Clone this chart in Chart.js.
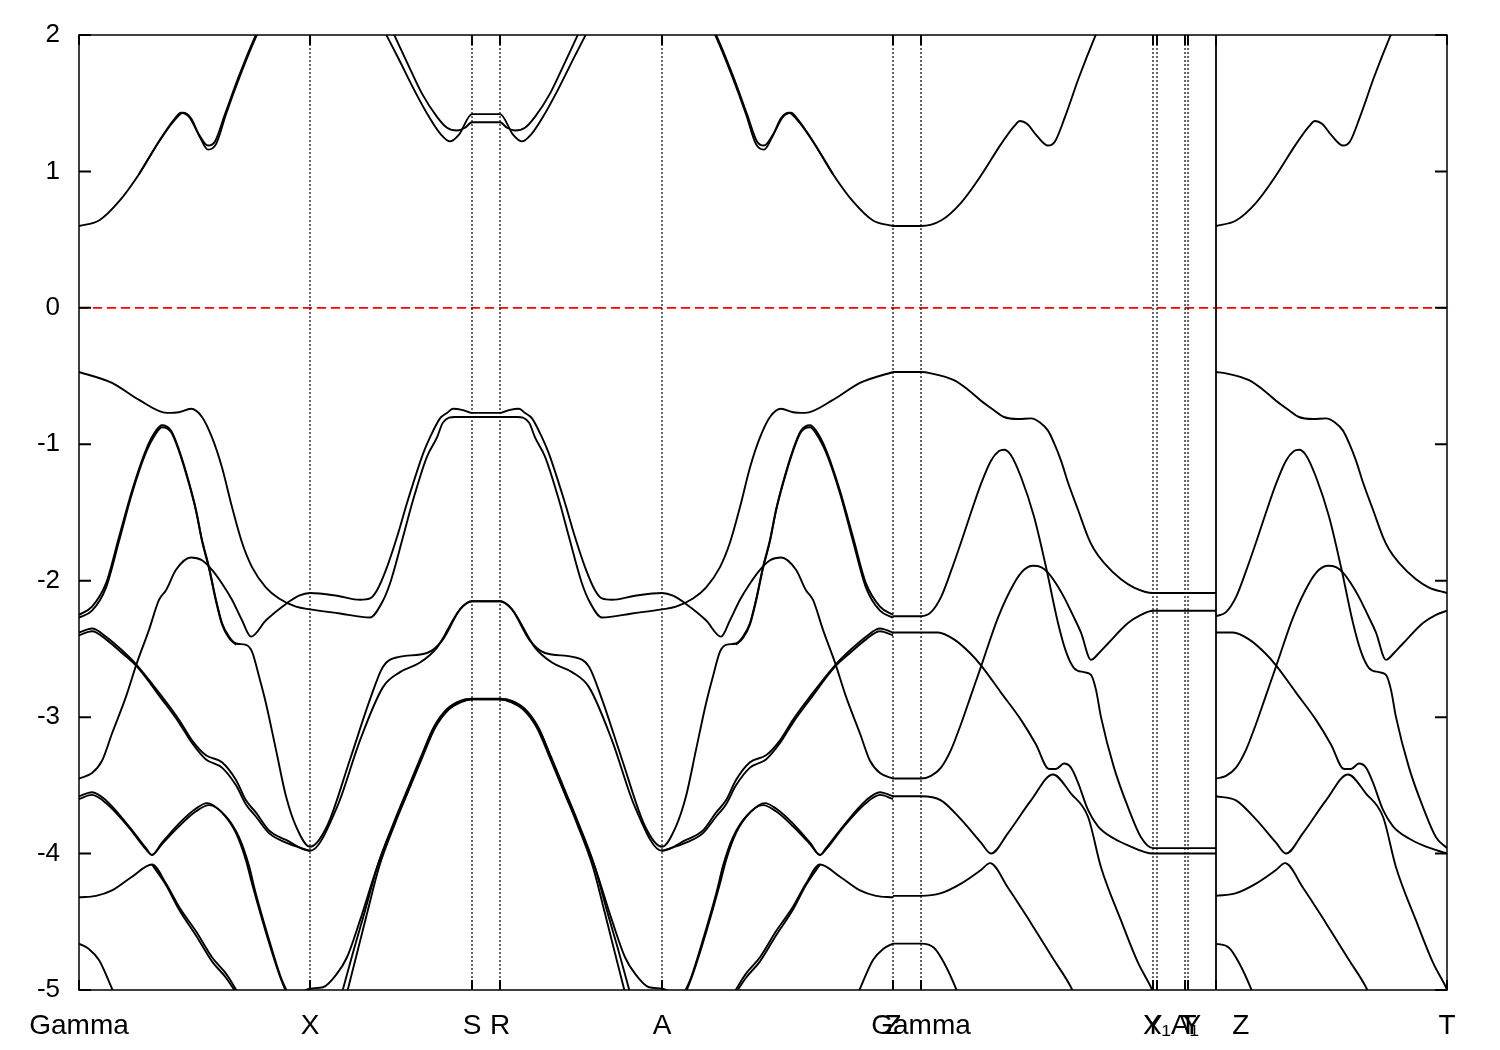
<!DOCTYPE html>
<html>
<head>
<meta charset="utf-8">
<title>Band structure</title>
<script src="https://cdn.jsdelivr.net/npm/chart.js@4.4.1/dist/chart.umd.min.js"></script>
<style>
  html, body { margin: 0; padding: 0; background: #fff; }
  #wrap { width: 1500px; height: 1050px; }
</style>
</head>
<body>
<div id="wrap"><canvas id="bands" width="1500" height="1050"></canvas></div>
<script>
// high-symmetry points along the k-path
const symK = [0, 231, 393, 421, 583, 814, 842, 1074, 1078, 1106, 1109, 1137, 1368];
const symLabels = ["Gamma", "X", "S", "R", "A", "Z", "Gamma", "Y", "X₁", "A₁", "T", "Y    Z", "T"];
const breakK = 1137;
const yTicks = [2, 1, 0, -1, -2, -3, -4, -5];

// ---- Gamma - X - S - R - A - Z ----  [k, E(eV)]
const gx_cb = [[0,0.60],[20,0.64],[40,0.78],[60,0.98],[80,1.22],[95,1.38],[102,1.43],[110,1.40],[120,1.27],[129,1.19],[136,1.22],[146,1.42],[160,1.70],[175,1.97],[185,2.12]];
const gx_cb2 = [[60,0.98],[80,1.22],[96,1.38],[104,1.43],[112,1.39],[121,1.25],[129,1.16],[137,1.20],[147,1.42],[161,1.70],[176,1.97],[186,2.12]];
const az_cb = [[629,2.12],[639,1.97],[654,1.70],[668,1.42],[678,1.22],[685,1.19],[694,1.27],[704,1.40],[712,1.43],[719,1.38],[734,1.22],[754,0.98],[774,0.78],[794,0.64],[814,0.60]];
const az_cb2 = [[628,2.12],[638,1.97],[653,1.70],[667,1.42],[677,1.20],[685,1.16],[693,1.25],[702,1.39],[710,1.43],[718,1.38],[734,1.22],[754,0.98]];
const sr_cb1 = [[306,2.02],[320,1.82],[335,1.60],[350,1.40],[362,1.27],[371,1.22],[380,1.27],[393,1.42],[421,1.42],[434,1.27],[443,1.22],[452,1.27],[464,1.40],[479,1.60],[494,1.82],[508,2.02]];
const sr_cb2 = [[314,2.02],[328,1.80],[343,1.57],[358,1.40],[368,1.32],[378,1.30],[386,1.32],[393,1.36],[421,1.36],[428,1.32],[436,1.30],[446,1.32],[456,1.40],[471,1.57],[486,1.80],[500,2.02]];

const vb1 = [[0,-0.47],[33,-0.55],[60,-0.675],[88,-0.77],[100,-0.765],[112,-0.74],[123,-0.80],[133,-0.95],[143,-1.17],[153,-1.46],[163,-1.72],[173,-1.90],[187,-2.05],[200,-2.13],[217,-2.19],[231,-2.21],
  [261,-2.24],[291,-2.27],[303,-2.16],[311,-2.02],[324,-1.68],[334,-1.41],[348,-1.09],[358,-0.95],[364,-0.84],[376,-0.80],[393,-0.80],[421,-0.80],
  [438,-0.80],[450,-0.84],[456,-0.95],[466,-1.09],[480,-1.41],[490,-1.68],[503,-2.02],[511,-2.16],[523,-2.27],[553,-2.24],[583,-2.21],
  [597,-2.19],[614,-2.13],[627,-2.05],[641,-1.90],[651,-1.72],[661,-1.46],[671,-1.17],[681,-0.95],[691,-0.80],[702,-0.74],[714,-0.765],[726,-0.77],[754,-0.675],[781,-0.55],[814,-0.47]];
const vb4 = [[0,-3.45],[13,-3.41],[23,-3.32],[33,-3.12],[47,-2.85],[58,-2.60],[70,-2.36],[80,-2.14],[87,-2.07],[97,-1.92],[112,-1.83],[123,-1.85],[133,-1.92],[143,-2.02],[153,-2.14],[163,-2.29],[172,-2.41],[187,-2.29],[207,-2.17],[220,-2.11],[231,-2.09],
  [258,-2.11],[281,-2.14],[291,-2.13],[298,-2.07],[308,-1.90],[318,-1.68],[328,-1.43],[334,-1.29],[344,-1.07],[351,-0.95],[361,-0.81],[368,-0.77],[374,-0.74],[384,-0.75],[393,-0.77],[421,-0.77],
  [430,-0.75],[440,-0.74],[446,-0.77],[453,-0.81],[463,-0.95],[470,-1.07],[480,-1.29],[486,-1.43],[496,-1.68],[506,-1.90],[516,-2.07],[523,-2.13],[533,-2.14],[556,-2.11],[583,-2.09],
  [594,-2.11],[607,-2.17],[627,-2.29],[642,-2.41],[651,-2.29],[661,-2.14],[671,-2.02],[681,-1.92],[691,-1.85],[702,-1.83],[717,-1.92],[727,-2.07],[734,-2.14],[744,-2.36],[756,-2.60],[767,-2.85],[781,-3.12],[791,-3.32],[801,-3.41],[814,-3.45]];
const vb2 = [[0,-2.25],[13,-2.19],[27,-2.02],[40,-1.68],[53,-1.34],[67,-1.04],[77,-0.90],[83,-0.86],[92,-0.90],[100,-1.04],[110,-1.28],[117,-1.48],[123,-1.70],[130,-1.90],[137,-2.14],[143,-2.31],[150,-2.41],[157,-2.46],[167,-2.47],[173,-2.52],[180,-2.70],[187,-2.90],[197,-3.24],[207,-3.58],[217,-3.80],[231,-3.95],
  [248,-3.80],[271,-3.31],[291,-2.87],[304,-2.63],[319,-2.56],[348,-2.53],[364,-2.43],[381,-2.21],[393,-2.15],[421,-2.15],
  [433,-2.21],[450,-2.43],[466,-2.53],[495,-2.56],[510,-2.63],[523,-2.87],[543,-3.31],[566,-3.80],[583,-3.95],
  [597,-3.80],[607,-3.58],[617,-3.24],[627,-2.90],[634,-2.70],[641,-2.52],[647,-2.47],[657,-2.46],[664,-2.41],[671,-2.31],[677,-2.14],[684,-1.90],[691,-1.70],[697,-1.48],[704,-1.28],[714,-1.04],[722,-0.90],[731,-0.86],[737,-0.90],[747,-1.04],[761,-1.34],[774,-1.68],[787,-2.02],[801,-2.19],[814,-2.25]];
const vb2b_g = [[0,-2.27],[13,-2.22],[27,-2.05],[40,-1.71],[53,-1.36],[67,-1.06],[77,-0.92],[83,-0.875],[92,-0.91],[100,-1.05],[110,-1.29],[117,-1.49],[123,-1.71],[130,-1.91],[137,-2.15],[143,-2.32],[150,-2.42],[157,-2.47]];
const vb2b_z = [[657,-2.47],[664,-2.42],[671,-2.32],[677,-2.15],[684,-1.91],[691,-1.71],[697,-1.49],[704,-1.29],[714,-1.05],[722,-0.91],[731,-0.875],[737,-0.92],[747,-1.06],[761,-1.36],[774,-1.71],[787,-2.05],[801,-2.22],[814,-2.27]];
const vb3 = [[0,-2.38],[13,-2.35],[27,-2.41],[43,-2.51],[58,-2.62],[83,-2.85],[100,-3.02],[113,-3.17],[127,-3.28],[143,-3.33],[157,-3.46],[167,-3.61],[177,-3.70],[190,-3.83],[207,-3.90],[231,-3.98],
  [258,-3.66],[281,-3.17],[304,-2.78],[321,-2.67],[341,-2.60],[358,-2.49],[381,-2.21],[393,-2.15],[421,-2.15],
  [433,-2.21],[456,-2.49],[473,-2.60],[493,-2.67],[510,-2.78],[533,-3.17],[556,-3.66],[583,-3.98],
  [607,-3.90],[624,-3.83],[637,-3.70],[647,-3.61],[657,-3.46],[671,-3.33],[687,-3.28],[701,-3.17],[714,-3.02],[731,-2.85],[756,-2.62],[771,-2.51],[787,-2.41],[801,-2.35],[814,-2.38]];
const vb3b_g = [[0,-2.40],[13,-2.37],[27,-2.43],[43,-2.53],[58,-2.63],[83,-2.87],[100,-3.04],[113,-3.19],[127,-3.31],[143,-3.37],[157,-3.50],[167,-3.64],[177,-3.73],[190,-3.85],[207,-3.92],[231,-3.98]];
const vb3b_z = [[583,-3.98],[607,-3.92],[624,-3.85],[637,-3.73],[647,-3.64],[657,-3.50],[671,-3.37],[687,-3.31],[701,-3.19],[714,-3.04],[731,-2.87],[756,-2.63],[771,-2.53],[787,-2.43],[801,-2.37],[814,-2.40]];
const vb5_g = [[0,-3.58],[13,-3.55],[27,-3.61],[50,-3.80],[67,-3.96],[73,-4.01],[83,-3.92],[100,-3.78],[117,-3.67],[128,-3.63],[143,-3.70],[157,-3.85],[167,-4.05],[173,-4.22],[187,-4.58],[200,-4.88],[209,-5.05]];
const vb5_z = [[605,-5.05],[614,-4.88],[627,-4.58],[641,-4.22],[647,-4.05],[657,-3.85],[671,-3.70],[686,-3.63],[697,-3.67],[714,-3.78],[731,-3.92],[741,-4.01],[747,-3.96],[764,-3.80],[787,-3.61],[801,-3.55],[814,-3.58]];
const vb5b_g = [[0,-3.60],[13,-3.57],[27,-3.63],[50,-3.81],[67,-3.97],[73,-4.01],[83,-3.93],[100,-3.80],[117,-3.69],[130,-3.645],[146,-3.72],[160,-3.88],[170,-4.09],[176,-4.27],[190,-4.63],[203,-4.93],[211,-5.05]];
const vb5b_z = [[603,-5.05],[611,-4.93],[624,-4.63],[638,-4.27],[644,-4.09],[654,-3.88],[668,-3.72],[684,-3.645],[697,-3.69],[714,-3.80],[731,-3.93],[741,-4.01],[747,-3.97],[764,-3.81],[787,-3.63],[801,-3.57],[814,-3.60]];
const vb6_g = [[0,-4.32],[17,-4.31],[33,-4.27],[53,-4.17],[73,-4.08],[87,-4.22],[100,-4.39],[117,-4.57],[133,-4.76],[147,-4.88],[159,-5.02]];
const vb6_z = [[655,-5.02],[667,-4.88],[681,-4.76],[697,-4.57],[714,-4.39],[727,-4.22],[741,-4.08],[761,-4.17],[781,-4.27],[797,-4.31],[814,-4.32]];
const vb6b_g = [[73,-4.08],[87,-4.23],[100,-4.41],[117,-4.60],[133,-4.79],[147,-4.91],[157,-5.02]];
const vb6b_z = [[657,-5.02],[667,-4.91],[681,-4.79],[697,-4.60],[714,-4.41],[727,-4.23],[741,-4.08]];
const vb7_g = [[0,-4.66],[10,-4.70],[20,-4.78],[33,-4.99],[36,-5.04]];
const vb7_z = [[778,-5.04],[781,-4.99],[794,-4.78],[804,-4.70],[814,-4.66]];
const xs_a = [[205,-5.10],[231,-4.99],[244,-4.98],[258,-4.88],[268,-4.76],[281,-4.49],[298,-4.10],[314,-3.80],[328,-3.56],[341,-3.32],[354,-3.09],[368,-2.95],[381,-2.89],[393,-2.87],[421,-2.87],
  [433,-2.89],[446,-2.95],[460,-3.09],[473,-3.32],[486,-3.56],[500,-3.80],[516,-4.10],[533,-4.49],[546,-4.76],[556,-4.88],[570,-4.98],[583,-4.99],[609,-5.10]];
const xs_b = [[268,-5.02],[278,-4.73],[288,-4.44],[300,-4.10],[316,-3.78],[330,-3.53],[343,-3.30],[356,-3.08],[369,-2.95],[382,-2.89],[393,-2.87],[421,-2.87],
  [432,-2.89],[445,-2.95],[458,-3.08],[471,-3.30],[484,-3.53],[498,-3.78],[514,-4.10],[526,-4.44],[536,-4.73],[546,-5.02]];
const xs_c = [[263,-5.02],[275,-4.70],[286,-4.42],[299,-4.08],[315,-3.77],[329,-3.52],[342,-3.29],[355,-3.07],[368,-2.94],[381,-2.88],[393,-2.865],[421,-2.865],
  [433,-2.88],[446,-2.94],[459,-3.07],[472,-3.29],[485,-3.52],[499,-3.77],[515,-4.08],[528,-4.42],[539,-4.70],[551,-5.02]];

// ---- Z - Gamma - Y - X1 - A1 - T - Y ----
const zg_cb = [[814,0.60],[842,0.60],[862,0.64],[882,0.77],[902,0.97],[922,1.20],[935,1.33],[941,1.37],[948,1.35],[958,1.26],[969,1.19],[976,1.22],[986,1.40],[1000,1.69],[1015,1.97],[1024,2.12]];
const g1 = [[814,-0.47],[842,-0.47],[852,-0.48],[875,-0.53],[889,-0.60],[902,-0.68],[915,-0.75],[925,-0.80],[939,-0.815],[952,-0.81],[961,-0.84],[969,-0.90],[975,-0.99],[982,-1.12],[989,-1.28],[999,-1.48],[1009,-1.68],[1015,-1.77],[1025,-1.87],[1042,-1.99],[1055,-2.05],[1074,-2.09],[1137,-2.09]];
const g2 = [[814,-2.26],[842,-2.26],[852,-2.23],[862,-2.12],[872,-1.93],[882,-1.72],[892,-1.50],[902,-1.29],[912,-1.12],[920,-1.05],[925,-1.04],[932,-1.08],[942,-1.24],[955,-1.53],[967,-1.90],[979,-2.31],[987,-2.52],[995,-2.64],[1005,-2.67],[1012,-2.69],[1017,-2.80],[1022,-3.00],[1035,-3.37],[1049,-3.66],[1062,-3.88],[1074,-3.96],[1137,-3.96]];
const g3 = [[814,-2.38],[842,-2.38],[859,-2.38],[875,-2.43],[891,-2.53],[902,-2.62],[922,-2.82],[942,-3.02],[957,-3.20],[970,-3.38],[977,-3.38],[985,-3.34],[992,-3.37],[999,-3.48],[1009,-3.68],[1019,-3.80],[1035,-3.89],[1049,-3.94],[1074,-4.00],[1137,-4.00]];
const g4 = [[814,-3.45],[842,-3.45],[852,-3.43],[862,-3.37],[872,-3.24],[882,-3.05],[892,-2.84],[902,-2.63],[919,-2.27],[935,-2.02],[945,-1.92],[954,-1.89],[962,-1.90],[969,-1.94],[977,-2.02],[985,-2.12],[993,-2.24],[1002,-2.38],[1012,-2.58],[1020,-2.53],[1029,-2.46],[1049,-2.31],[1062,-2.25],[1074,-2.22],[1137,-2.22]];
const g5 = [[814,-3.58],[842,-3.58],[862,-3.61],[882,-3.75],[902,-3.92],[912,-4.00],[929,-3.85],[952,-3.61],[974,-3.42],[992,-3.56],[1009,-3.73],[1022,-4.10],[1042,-4.49],[1059,-4.80],[1072,-4.98],[1076,-5.05]];
const g6 = [[814,-4.31],[842,-4.31],[862,-4.29],[882,-4.22],[902,-4.12],[911,-4.07],[929,-4.25],[952,-4.51],[975,-4.78],[992,-4.98],[995,-5.03]];
const g7 = [[814,-4.66],[842,-4.66],[855,-4.69],[865,-4.80],[877,-4.99],[879,-5.03]];

// ---- Z - T ----
const zt_cb = [[1137,0.60],[1157,0.64],[1177,0.77],[1197,0.97],[1217,1.20],[1230,1.33],[1236,1.37],[1243,1.35],[1253,1.26],[1264,1.19],[1271,1.22],[1281,1.40],[1295,1.69],[1310,1.97],[1319,2.12]];
const t1 = [[1137,-0.47],[1147,-0.48],[1170,-0.53],[1184,-0.60],[1197,-0.68],[1210,-0.75],[1220,-0.80],[1234,-0.815],[1247,-0.81],[1256,-0.84],[1264,-0.90],[1270,-0.99],[1277,-1.12],[1284,-1.28],[1294,-1.48],[1304,-1.68],[1310,-1.77],[1320,-1.87],[1337,-1.99],[1350,-2.05],[1368,-2.09]];
const t2 = [[1137,-2.26],[1147,-2.23],[1157,-2.12],[1167,-1.93],[1177,-1.72],[1187,-1.50],[1197,-1.29],[1207,-1.12],[1215,-1.05],[1220,-1.04],[1227,-1.08],[1237,-1.24],[1250,-1.53],[1262,-1.90],[1274,-2.31],[1282,-2.52],[1290,-2.64],[1300,-2.67],[1307,-2.69],[1312,-2.80],[1317,-3.00],[1330,-3.37],[1344,-3.66],[1357,-3.88],[1368,-3.96]];
const t3 = [[1137,-2.38],[1154,-2.38],[1170,-2.43],[1186,-2.53],[1197,-2.62],[1217,-2.82],[1237,-3.02],[1252,-3.20],[1265,-3.38],[1272,-3.38],[1280,-3.34],[1287,-3.37],[1294,-3.48],[1304,-3.68],[1314,-3.80],[1330,-3.89],[1344,-3.94],[1368,-4.00]];
const t4 = [[1137,-3.45],[1147,-3.43],[1157,-3.37],[1167,-3.24],[1177,-3.05],[1187,-2.84],[1197,-2.63],[1214,-2.27],[1230,-2.02],[1240,-1.92],[1249,-1.89],[1257,-1.90],[1264,-1.94],[1272,-2.02],[1280,-2.12],[1288,-2.24],[1297,-2.38],[1307,-2.58],[1315,-2.53],[1324,-2.46],[1344,-2.31],[1357,-2.25],[1368,-2.22]];
const t5 = [[1137,-3.58],[1157,-3.61],[1177,-3.75],[1197,-3.92],[1207,-4.00],[1224,-3.85],[1247,-3.61],[1269,-3.42],[1287,-3.56],[1304,-3.73],[1317,-4.10],[1337,-4.49],[1354,-4.80],[1367,-4.98],[1371,-5.05]];
const t6 = [[1137,-4.31],[1157,-4.29],[1177,-4.22],[1197,-4.12],[1206,-4.07],[1224,-4.25],[1247,-4.51],[1270,-4.78],[1287,-4.98],[1290,-5.03]];
const t7 = [[1137,-4.66],[1150,-4.69],[1160,-4.80],[1172,-4.99],[1174,-5.03]];

const fermi = [[0, 0], [1368, 0]];

const bands = [gx_cb, gx_cb2, az_cb, az_cb2, sr_cb1, sr_cb2,
  vb1, vb2, vb2b_g, vb2b_z, vb3, vb3b_g, vb3b_z, vb4,
  vb5_g, vb5_z, vb5b_g, vb5b_z, vb6_g, vb6_z, vb6b_g, vb6b_z, vb7_g, vb7_z, xs_a, xs_b, xs_c,
  zg_cb, g1, g2, g3, g4, g5, g6, g7,
  zt_cb, t1, t2, t3, t4, t5, t6, t7];

const pts = arr => arr.map(([x, y]) => ({x, y}));

const datasets = [];
symK.forEach(k => {
  if (k === 0 || k === 1368) return;
  datasets.push({
    data: pts([[k, -5], [k, 2]]),
    borderColor: '#000',
    borderWidth: k === breakK ? 1.8 : 1.2,
    borderDash: k === breakK ? [] : [2, 2],
    pointRadius: 0
  });
});
bands.forEach(b => {
  datasets.push({
    data: pts(b),
    borderColor: '#000',
    borderWidth: 1.9,
    pointRadius: 0,
    cubicInterpolationMode: 'monotone'
  });
});
datasets.push({
  data: pts(fermi),
  borderColor: '#ff0000',
  borderWidth: 1.8,
  borderDash: [9, 5],
  pointRadius: 0
});

const frame = {
  id: 'frame',
  afterDraw(chart) {
    const {ctx, chartArea: a, scales: {x, y}} = chart;
    ctx.save();
    ctx.strokeStyle = '#000';
    ctx.lineWidth = 1.5;
    ctx.strokeRect(a.left, a.top, a.right - a.left, a.bottom - a.top);
    ctx.lineWidth = 2;
    ctx.beginPath();
    yTicks.forEach(v => {
      const py = y.getPixelForValue(v);
      ctx.moveTo(a.left, py); ctx.lineTo(a.left + 12, py);
      ctx.moveTo(a.right, py); ctx.lineTo(a.right - 12, py);
    });
    symK.forEach(k => {
      const px = x.getPixelForValue(k);
      ctx.moveTo(px, a.bottom); ctx.lineTo(px, a.bottom - 10);
      ctx.moveTo(px, a.top); ctx.lineTo(px, a.top + 10);
    });
    ctx.stroke();
    ctx.restore();
  }
};

const family = '"Liberation Sans", Arial, Helvetica, sans-serif';

new Chart(document.getElementById('bands'), {
  type: 'line',
  data: { datasets },
  options: {
    responsive: false,
    animation: false,
    layout: { padding: { top: 35, right: 53, left: 0, bottom: 0 } },
    plugins: { legend: { display: false }, tooltip: { enabled: false } },
    scales: {
      x: {
        type: 'linear',
        min: 0,
        max: 1368,
        afterBuildTicks: s => { s.ticks = symK.map(v => ({ value: v })); },
        afterFit: s => { s.height = 60; },
        grid: { display: false },
        border: { display: false },
        ticks: {
          autoSkip: false,
          maxRotation: 0,
          minRotation: 0,
          padding: 11,
          color: '#000',
          font: { family, size: 28 },
          callback: (v, i) => symLabels[i]
        }
      },
      y: {
        min: -5,
        max: 2,
        afterBuildTicks: s => { s.ticks = yTicks.map(v => ({ value: v })); },
        afterFit: s => { s.width = 79; },
        grid: { display: false },
        border: { display: false },
        ticks: { padding: 11, color: '#000', font: { family, size: 26 }, callback: v => String(v) }
      }
    }
  },
  plugins: [frame]
});
</script>
</body>
</html>
